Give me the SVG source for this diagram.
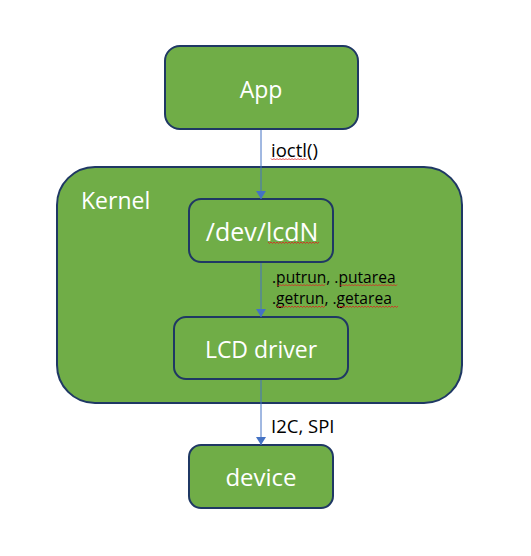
<svg xmlns="http://www.w3.org/2000/svg" width="531" height="556" viewBox="0 0 531 556">
<style>
.box{fill:#70AD47;stroke:#1F3864;stroke-width:2}
.lbl{fill:#fff;font-family:"Open Sans","Liberation Sans",sans-serif;text-anchor:middle}
.edge{stroke:#4472C4;stroke-width:1;fill:none}
.et{fill:#000;font-family:"Open Sans","Liberation Sans",sans-serif}
.sq{stroke:#E02020;stroke-width:0.8;fill:none}
</style>
<defs>
<marker id="arr" markerWidth="8" markerHeight="10" refX="8" refY="5" orient="auto" markerUnits="userSpaceOnUse">
<path d="M0,0 L8,5 L0,10 Z" fill="#4472C4"/>
</marker>
</defs>
<rect width="531" height="556" fill="#fff"/>
<g id="kernel">
<rect class="box" x="57" y="167" width="405" height="236" rx="38"/>
<text class="lbl" x="81" y="209" font-size="23" style="text-anchor:start">Kernel</text>
</g>
<g id="app">
<rect class="box" x="165" y="46" width="193" height="83" rx="15"/>
<text class="lbl" x="261" y="98" font-size="23">App</text>
</g>
<g id="devlcd">
<rect class="box" x="189" y="199" width="144" height="63" rx="12"/>
<text class="lbl" x="262" y="241" font-size="25">/dev/lcdN</text>
<path class="sq" d="M268,242l1.5,1.5l1.5,-1.5l1.5,1.5l1.5,-1.5l1.5,1.5l1.5,-1.5l1.5,1.5l1.5,-1.5l1.5,1.5l1.5,-1.5l1.5,1.5l1.5,-1.5l1.5,1.5l1.5,-1.5l1.5,1.5l1.5,-1.5l1.5,1.5l1.5,-1.5l1.5,1.5l1.5,-1.5l1.5,1.5l1.5,-1.5l1.5,1.5l1.5,-1.5l1.5,1.5l1.5,-1.5l1.5,1.5l1.5,-1.5l1.5,1.5l1.5,-1.5l1.5,1.5l1.5,-1.5l1.5,1.5l1.5,-1.5"/>
</g>
<g id="lcddriver">
<rect class="box" x="174" y="317" width="174" height="62" rx="12"/>
<text class="lbl" x="261" y="358" font-size="23">LCD driver</text>
</g>
<g id="device">
<rect class="box" x="189" y="445" width="144" height="63" rx="12"/>
<text class="lbl" x="261" y="486" font-size="24">device</text>
</g>
<g id="connectors">
<line class="edge" x1="261" y1="130" x2="261" y2="199" marker-end="url(#arr)"/>
<line class="edge" x1="261" y1="263" x2="261" y2="317" marker-end="url(#arr)"/>
<line class="edge" x1="261" y1="380" x2="261" y2="445" marker-end="url(#arr)"/>
<text class="et" x="271" y="157" font-size="18.5">ioctl()</text>
<path class="sq" d="M271,158.5l1.5,1.5l1.5,-1.5l1.5,1.5l1.5,-1.5l1.5,1.5l1.5,-1.5l1.5,1.5l1.5,-1.5l1.5,1.5l1.5,-1.5l1.5,1.5l1.5,-1.5l1.5,1.5l1.5,-1.5l1.5,1.5l1.5,-1.5l1.5,1.5l1.5,-1.5l1.5,1.5l1.5,-1.5l1.5,1.5l1.5,-1.5l1.5,1.5l1.5,-1.5"/>
<text class="et" x="272" y="283" font-size="15.6">.putrun, .putarea</text>
<path class="sq" d="M277,284.5l1.5,1.5l1.5,-1.5l1.5,1.5l1.5,-1.5l1.5,1.5l1.5,-1.5l1.5,1.5l1.5,-1.5l1.5,1.5l1.5,-1.5l1.5,1.5l1.5,-1.5l1.5,1.5l1.5,-1.5l1.5,1.5l1.5,-1.5l1.5,1.5l1.5,-1.5l1.5,1.5l1.5,-1.5l1.5,1.5l1.5,-1.5l1.5,1.5l1.5,-1.5l1.5,1.5l1.5,-1.5l1.5,1.5l1.5,-1.5l1.5,1.5l1.5,-1.5l1.5,1.5l1.5,-1.5"/>
<path class="sq" d="M340,284.5l1.5,1.5l1.5,-1.5l1.5,1.5l1.5,-1.5l1.5,1.5l1.5,-1.5l1.5,1.5l1.5,-1.5l1.5,1.5l1.5,-1.5l1.5,1.5l1.5,-1.5l1.5,1.5l1.5,-1.5l1.5,1.5l1.5,-1.5l1.5,1.5l1.5,-1.5l1.5,1.5l1.5,-1.5l1.5,1.5l1.5,-1.5l1.5,1.5l1.5,-1.5l1.5,1.5l1.5,-1.5l1.5,1.5l1.5,-1.5l1.5,1.5l1.5,-1.5l1.5,1.5l1.5,-1.5l1.5,1.5l1.5,-1.5l1.5,1.5l1.5,-1.5l1.5,1.5l1.5,-1.5"/>
<text class="et" x="272" y="304" font-size="15.6">.getrun, .getarea</text>
<path class="sq" d="M277,306l1.5,1.5l1.5,-1.5l1.5,1.5l1.5,-1.5l1.5,1.5l1.5,-1.5l1.5,1.5l1.5,-1.5l1.5,1.5l1.5,-1.5l1.5,1.5l1.5,-1.5l1.5,1.5l1.5,-1.5l1.5,1.5l1.5,-1.5l1.5,1.5l1.5,-1.5l1.5,1.5l1.5,-1.5l1.5,1.5l1.5,-1.5l1.5,1.5l1.5,-1.5l1.5,1.5l1.5,-1.5l1.5,1.5l1.5,-1.5l1.5,1.5l1.5,-1.5l1.5,1.5l1.5,-1.5"/>
<path class="sq" d="M338,306l1.5,1.5l1.5,-1.5l1.5,1.5l1.5,-1.5l1.5,1.5l1.5,-1.5l1.5,1.5l1.5,-1.5l1.5,1.5l1.5,-1.5l1.5,1.5l1.5,-1.5l1.5,1.5l1.5,-1.5l1.5,1.5l1.5,-1.5l1.5,1.5l1.5,-1.5l1.5,1.5l1.5,-1.5l1.5,1.5l1.5,-1.5l1.5,1.5l1.5,-1.5l1.5,1.5l1.5,-1.5l1.5,1.5l1.5,-1.5l1.5,1.5l1.5,-1.5l1.5,1.5l1.5,-1.5l1.5,1.5l1.5,-1.5l1.5,1.5l1.5,-1.5l1.5,1.5l1.5,-1.5l1.5,1.5l1.5,-1.5"/>
<text class="et" x="271" y="433" font-size="18.5">I2C, SPI</text>
</g>
</svg>
